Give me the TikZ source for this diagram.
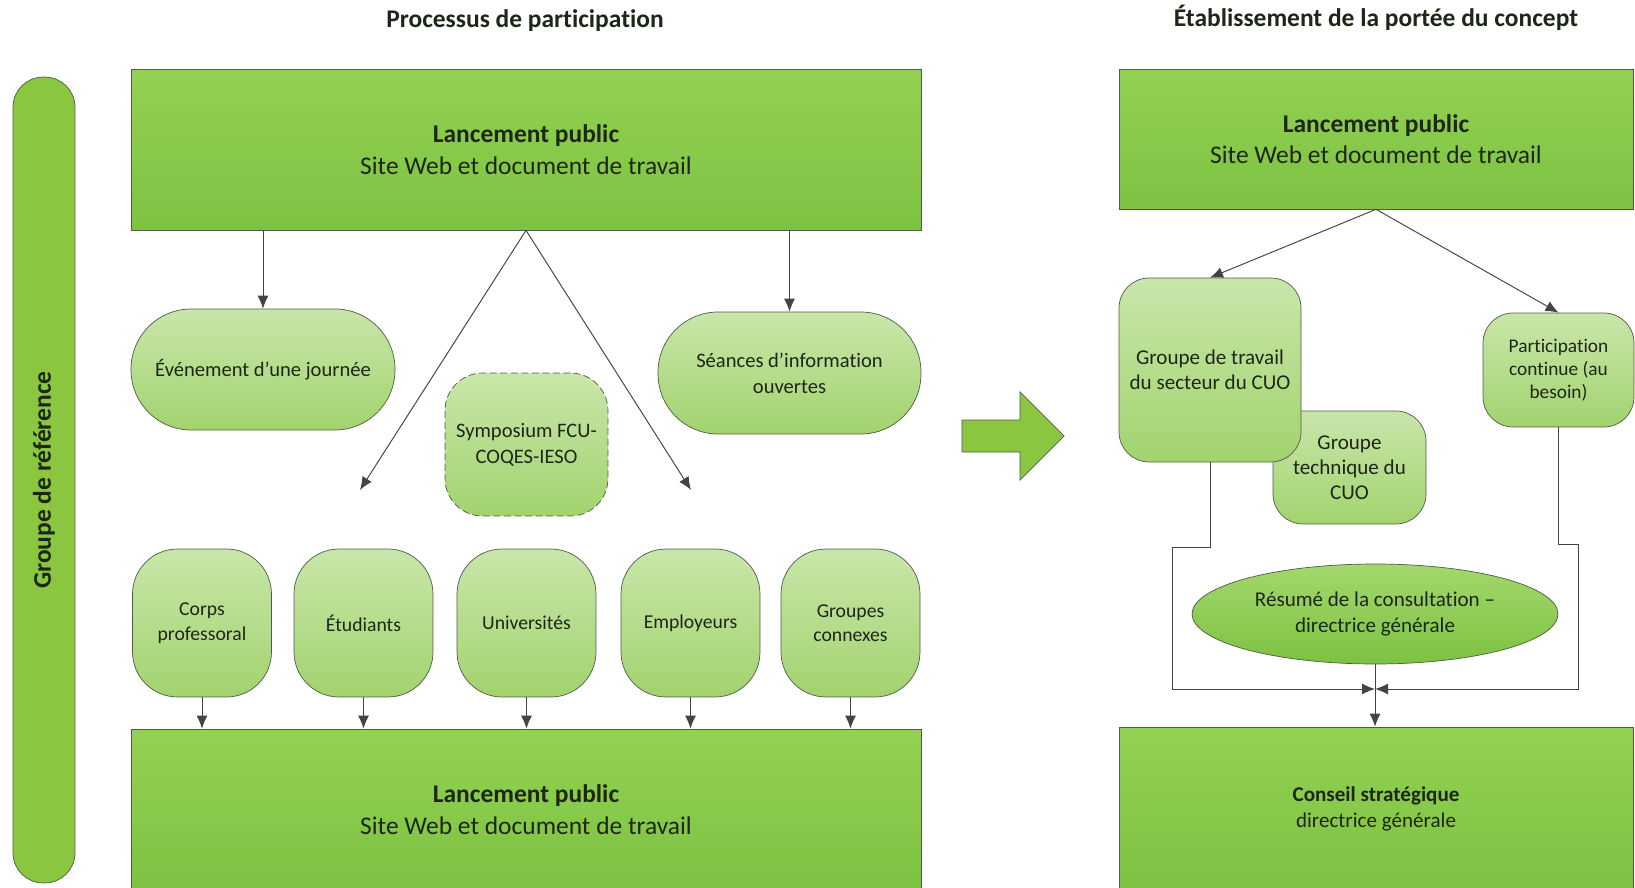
\documentclass[tikz,border=0pt]{standalone}
\usepackage{fontspec}
\setmainfont{Carlito}[Ligatures=NoCommon,RawFeature=-calt]
\usetikzlibrary{arrows.meta,shapes.geometric}
\definecolor{boxtop}{HTML}{93D152}
\definecolor{boxbot}{HTML}{7DC242}
\definecolor{lighttop}{HTML}{C9E6AA}
\definecolor{lightbot}{HTML}{A2D36E}
\definecolor{barfill}{HTML}{8AC640}
\definecolor{edge}{HTML}{4E5B46}
\definecolor{line}{HTML}{444444}
\definecolor{ink}{HTML}{1E2618}
\begin{document}
\begin{tikzpicture}[x=0.02cm,y=-0.02cm,
  every node/.style={text=ink},
  bigbox/.style={draw=edge,top color=boxtop,bottom color=boxbot,align=center,minimum height=3.22cm,font=\fontsize{14.5}{18}\selectfont},
  pill/.style={draw=edge,top color=lighttop,bottom color=lightbot,align=center,font=\fontsize{11.7}{14.7}\selectfont},
  barrel/.style={pill,minimum width=2.78cm,minimum height=2.96cm,rounded corners=0.9cm,font=\fontsize{11.2}{14}\selectfont},
  card/.style={pill,rounded corners=0.6cm,font=\fontsize{12}{14.5}\selectfont},
  arr/.style={draw=line,line width=0.55pt,-{Latex[length=0.26cm,width=0.22cm]}},
  link/.style={draw=line,line width=0.55pt}]
\useasboundingbox (0,0) rectangle (1635,888);
% titres
\node[font=\bfseries\fontsize{14.5}{18}\selectfont] (ttlA) at (525,21) {Processus de participation};
\node[font=\bfseries\fontsize{14.5}{18}\selectfont] (ttlB) at (1376,18) {Établissement de la portée du concept};
\node[draw=edge,fill=barfill,rotate=90,minimum width=16.12cm,minimum height=1.24cm,rounded corners=0.6cm,font=\bfseries\fontsize{14.5}{18}\selectfont] (refbar) at (44,480) {Groupe de référence};
% processus de participation
\node[bigbox,minimum width=15.8cm] (launchA) at (526,149.5) {\textbf{Lancement public}\\Site Web et document de travail};
\node[bigbox,minimum width=15.8cm] (launchB) at (526,809.5) {\textbf{Lancement public}\\Site Web et document de travail};
\node[pill,minimum width=5.28cm,minimum height=2.42cm,rounded corners=1.2cm] (event) at (263,369.5) {Événement d’une journée};
\node[pill,minimum width=5.26cm,minimum height=2.44cm,rounded corners=1.2cm] (seances) at (789.5,373) {Séances d’information\\ouvertes};
\node[pill,dash pattern=on 4pt off 2pt,minimum width=3.26cm,minimum height=2.86cm,rounded corners=0.75cm] (symp) at (526.5,444.5) {Symposium FCU-\\COQES-IESO};
\foreach \nm/\x/\txt in {corps/202/{Corps\\professoral},etud/363.5/{Étudiants},univ/526.5/{Universités},empl/690.5/{Employeurs},conn/850.5/{Groupes\\connexes}}
{
\node[barrel] (\nm) at (\x,623) {\txt};
\draw[arr] (\nm.south) -- (\nm.south |- launchB.north);
}
\coordinate (endL) at (360,490);
\coordinate (endR) at (691,490);
\draw[arr] (event.north |- launchA.south) -- (event.north);
\draw[arr] (seances.north |- launchA.south) -- (seances.north);
\draw[arr] (launchA.south) -- (endL);
\draw[arr] (launchA.south) -- (endR);
% fleche
\draw[draw=edge,fill=barfill] (962,420) -- (1020,420) -- (1020,392) -- (1064,436) -- (1020,480) -- (1020,452) -- (962,452) -- cycle;
% portee du concept
\node[bigbox,minimum width=10.28cm,minimum height=2.8cm] (launchC) at (1376,139) {\textbf{Lancement public}\\Site Web et document de travail};
\node[bigbox,minimum width=10.28cm,minimum height=3.26cm,font=\fontsize{12}{14.7}\selectfont] (conseil) at (1376,808.5) {\textbf{Conseil stratégique}\\directrice générale};
\node[card,minimum width=3.06cm,minimum height=2.26cm,font=\fontsize{12}{14.2}\selectfont] (technique) at (1349.5,467.5) {Groupe\\technique du\\CUO};
\node[card,minimum width=3.64cm,minimum height=3.68cm] (travail) at (1210,370) {Groupe de travail\\du secteur du CUO};
\node[card,minimum width=3.02cm,minimum height=2.28cm,font=\fontsize{11}{13}\selectfont] (particip) at (1558.5,370) {Participation\\continue (au\\besoin)};
\node[ellipse,draw=edge,top color=boxtop!85!white,bottom color=boxbot,inner sep=0pt,minimum width=7.32cm,minimum height=2cm,align=center,font=\fontsize{12}{14.7}\selectfont] (resume) at (1375,614) {Résumé de la consultation –\\directrice générale};
\coordinate (junc) at (1375,689);
\draw[arr] (launchC.south) -- (travail.north);
\draw[arr] (launchC.south) -- (particip.north);
\draw[arr] (travail.south) |- (1172,547) |- (junc);
\draw[arr] (particip.south) |- (1578,544) |- (junc);
\draw[arr] (resume.south) -- (resume.south |- conseil.north);
\end{tikzpicture}
\end{document}
